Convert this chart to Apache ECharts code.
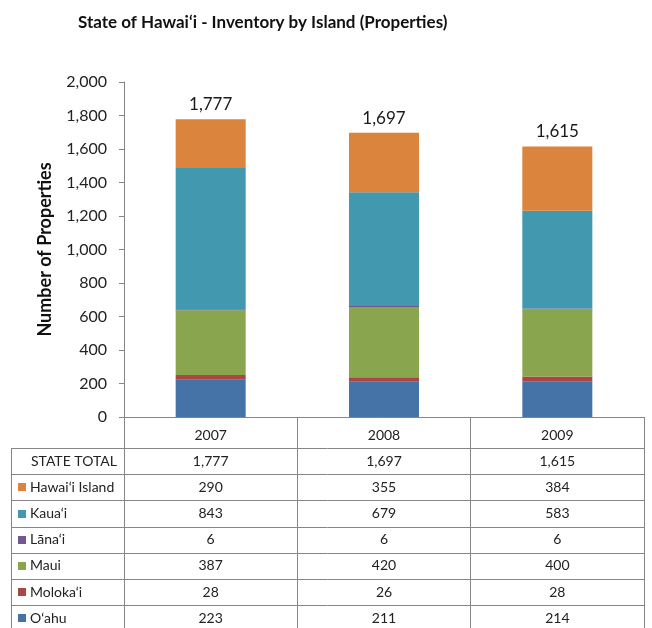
<!DOCTYPE html>
<html>
<head>
<meta charset="utf-8">
<script src="https://cdn.jsdelivr.net/npm/echarts@6/dist/echarts.min.js"></script>
<style>
	html, body { margin: 0; padding: 0; background: #fff; }
	#main { width: 652px; height: 628px; }
</style>
</head>
<body>
<div id="main"></div>
<script>
var years = ['2007', '2008', '2009'];
var oahu = [223, 211, 214];
var molokai = [28, 26, 28];
var maui = [387, 420, 400];
var lanai = [6, 6, 6];
var kauai = [843, 679, 583];
var hawaii = [290, 355, 384];
var totals = [1777, 1697, 1615];

// stack order bottom -> top
var islands = [
	{ name: 'O‘ahu', data: oahu, color: '#4572A7' },
	{ name: 'Moloka‘i', data: molokai, color: '#AA4643' },
	{ name: 'Maui', data: maui, color: '#89A54E' },
	{ name: 'Lāna‘i', data: lanai, color: '#71588F' },
	{ name: 'Kaua‘i', data: kauai, color: '#4198AF' },
	{ name: 'Hawai‘i Island', data: hawaii, color: '#DB843D' }
];

function fmt(v){
	return String(v).replace(/\B(?=(\d{3})+(?!\d))/g, ',');
}

var font = 'Lato, "Noto Sans", sans-serif';
var lineColor = '#868686';
var rowTop = 448;
var rowH = 26.2;
var tableLeft = 11;

var chart = echarts.init(document.getElementById('main'));

var series = islands.map(function(isl, i){
	var s = {
		name: isl.name,
		type: 'bar',
		stack: 'total',
		barWidth: 70,
		data: isl.data,
		itemStyle: { color: isl.color },
		emphasis: { disabled: true },
		animation: false
	};
	if(i === islands.length - 1){
		s.label = {
			show: true,
			position: 'top',
			distance: 6,
			fontFamily: font,
			fontSize: 17,
			color: '#1a1a1a',
			formatter: function(p){ return fmt(totals[p.dataIndex]); }
		};
	}
	return s;
});

var option = {
	backgroundColor: '#fff',
	title: {
		text: 'State of Hawai‘i - Inventory by Island (Properties)',
		left: 73,
		top: 9,
		textStyle: { fontFamily: font, fontWeight: 'bold', fontSize: 17, color: '#111' }
	},
	grid: { left: 124, right: 8, top: 82, bottom: 211, containLabel: false },
	xAxis: {
		type: 'category',
		data: years,
		axisLine: { lineStyle: { color: lineColor } },
		axisTick: { show: true, length: 211, lineStyle: { color: lineColor } },
		axisLabel: { fontFamily: font, fontSize: 14, color: '#222', margin: 11 }
	},
	yAxis: {
		type: 'value',
		min: 0,
		max: 2000,
		interval: 200,
		name: 'Number of Properties',
		nameLocation: 'middle',
		nameGap: 70,
		nameTextStyle: { fontFamily: font, fontWeight: 'bold', fontSize: 18, color: '#111' },
		axisLine: { show: true, lineStyle: { color: lineColor } },
		axisTick: { show: true, length: 5, lineStyle: { color: lineColor } },
		splitLine: { show: false },
		axisLabel: {
			fontFamily: font, fontSize: 16, color: '#222', margin: 17,
			formatter: function(v){ return fmt(v); }
		}
	},
	series: series
};

chart.setOption(option);

// data table under the axis
(function(){
	var els = [];
	var rightX = 644;
	var rows = [{ label: 'STATE TOTAL', values: totals, color: null }];
	islands.slice().reverse().forEach(function(isl){
		rows.push({ label: isl.name, values: isl.data, color: isl.color });
	});
	for(var r = 0; r <= rows.length; r++){
		var y = Math.round(rowTop + r * rowH) + 0.5;
		els.push({
			type: 'line',
			silent: true,
			shape: { x1: tableLeft, y1: y, x2: rightX, y2: y },
			style: { stroke: lineColor, lineWidth: 1 }
		});
	}
	els.push({
		type: 'line',
		silent: true,
		shape: { x1: tableLeft + 0.5, y1: rowTop, x2: tableLeft + 0.5, y2: 628 },
		style: { stroke: lineColor, lineWidth: 1 }
	});
	rows.forEach(function(row, r){
		var cy = rowTop + r * rowH + rowH / 2;
		if(row.color){
			els.push({
				type: 'rect',
				silent: true,
				shape: { x: 18, y: Math.round(cy - 4), width: 8, height: 8 },
				style: { fill: row.color }
			});
		}
		els.push({
			type: 'text',
			silent: true,
			x: row.color ? 30 : 31, y: cy,
			style: { text: row.label, font: '14px ' + font, fill: '#222', verticalAlign: 'middle' }
		});
		row.values.forEach(function(v, c){
			var px = chart.convertToPixel({ xAxisIndex: 0 }, years[c]);
			els.push({
				type: 'text',
				silent: true,
				x: px, y: cy,
				style: { text: fmt(v), font: '14px ' + font, fill: '#222', align: 'center', verticalAlign: 'middle' }
			});
		});
	});
	chart.setOption({ graphic: { elements: els } });
})();
</script>
</body>
</html>
